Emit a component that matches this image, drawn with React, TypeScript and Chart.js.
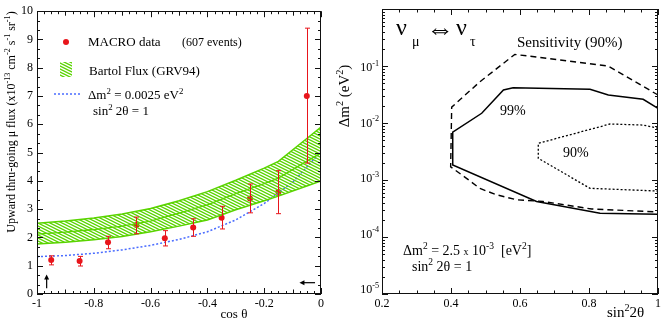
import React, { useEffect, useRef } from 'react';
import { Chart, registerables } from 'chart.js';

Chart.register(...registerables);

const FONT = '"Liberation Serif", "Times New Roman", serif';
const RED = '#e8151b';
const GREEN = '#5ad400';
const BLUE = '#4a6cff';

// ---------- Left panel data ----------
const cosBins = [-0.95, -0.85, -0.75, -0.65, -0.55, -0.45, -0.35, -0.25, -0.15, -0.05];
const macroFlux = [1.2, 1.17, 1.83, 2.44, 1.97, 2.35, 2.7, 3.38, 3.61, 7.0];
const macroErrLow = [1.03, 0.99, 1.6, 2.13, 1.7, 2.04, 2.3, 2.87, 2.84, 4.63];
const macroErrHigh = [1.35, 1.33, 2.04, 2.72, 2.24, 2.66, 3.1, 3.89, 4.36, 9.4];

const bandCos = [-1, -0.9, -0.8, -0.7, -0.6, -0.5, -0.4, -0.3, -0.2, -0.15, -0.05, 0];
const bartolUpper = [2.5, 2.58, 2.69, 2.83, 3.02, 3.3, 3.62, 4.02, 4.45, 4.69, 5.5, 5.9];
const bartolCenter = [2.12, 2.19, 2.28, 2.4, 2.58, 2.86, 3.15, 3.55, 3.9, 4.1, 4.7, 4.98];
const bartolLower = [1.77, 1.83, 1.92, 2.03, 2.2, 2.4, 2.62, 2.98, 3.3, 3.46, 3.82, 4.0];

const oscCos = [-1, -0.9, -0.8, -0.7, -0.6, -0.5, -0.4, -0.3, -0.2, -0.1, 0];
const oscFlux = [1.32, 1.36, 1.44, 1.56, 1.72, 1.93, 2.2, 2.62, 3.2, 3.95, 5.03];

const leftXTicks = [-1, -0.8, -0.6, -0.4, -0.2, 0];
const leftYTicks = [0, 1, 2, 3, 4, 5, 6, 7, 8, 9, 10];

// ---------- Right panel data ----------
const sensX = [1.0, 0.855, 0.585, 0.484, 0.402, 0.399, 0.445, 0.484, 0.532, 0.59, 0.667, 0.808, 1.0];
const sensY = [0.031, 0.1, 0.16, 0.053, 0.019, 1.7e-3, 1.07e-3, 7.1e-4, 5.5e-4, 4.5e-4, 4.2e-4, 3.1e-4, 2.75e-4];
const c99X = [1.0, 0.957, 0.856, 0.803, 0.58, 0.552, 0.489, 0.405, 0.405, 0.648, 0.832, 1.0];
const c99Y = [0.018, 0.026, 0.031, 0.039, 0.0417, 0.038, 0.0148, 6.9e-3, 1.83e-3, 4.2e-4, 2.6e-4, 2.5e-4];
const c90X = [1.0, 0.957, 0.861, 0.653, 0.653, 0.803, 1.0];
const c90Y = [8.1e-3, 9.2e-3, 9.6e-3, 4.4e-3, 2.4e-3, 7.15e-4, 6.4e-4];

const rightXTicks = [0.2, 0.4, 0.6, 0.8, 1];
const rightYDecades = [-1, -2, -3, -4, -5];

// ---------- helpers ----------
type Seg = { t: string; k?: 'sup' | 'sub'; s?: number };

function segSize(sg: Seg, size: number) {
  return sg.s ?? (sg.k ? size * 0.68 : size);
}
function measureRich(ctx: CanvasRenderingContext2D, segs: Seg[], size: number) {
  let w = 0;
  for (const sg of segs) {
    ctx.font = `${segSize(sg, size)}px ${FONT}`;
    w += ctx.measureText(sg.t).width;
  }
  return w;
}
function drawRich(
  ctx: CanvasRenderingContext2D,
  x: number,
  y: number,
  segs: Seg[],
  size: number,
  align: 'left' | 'center' | 'right' = 'left'
) {
  const w = measureRich(ctx, segs, size);
  let cx = align === 'left' ? x : align === 'center' ? x - w / 2 : x - w;
  ctx.textAlign = 'left';
  ctx.textBaseline = 'alphabetic';
  for (const sg of segs) {
    const fs = segSize(sg, size);
    ctx.font = `${fs}px ${FONT}`;
    const dy = sg.k === 'sup' ? -size * 0.42 : sg.k === 'sub' ? size * 0.3 : 0;
    ctx.fillText(sg.t, cx, y + dy);
    cx += ctx.measureText(sg.t).width;
  }
}

function makeHatch(): CanvasPattern | string {
  const w = 6;
  const h = 3;
  const c = document.createElement('canvas');
  c.width = w;
  c.height = h;
  const g = c.getContext('2d');
  if (!g) return GREEN;
  g.strokeStyle = GREEN;
  g.lineWidth = 1.3;
  for (const k of [-1, 0, 1]) {
    g.beginPath();
    g.moveTo(-1, k * h - h / w);
    g.lineTo(w + 1, k * h + h + h / w);
    g.stroke();
  }
  const p = g.createPattern(c, 'repeat');
  return p || GREEN;
}

function frame(ctx: CanvasRenderingContext2D, a: any) {
  ctx.strokeStyle = '#111';
  ctx.lineWidth = 1;
  ctx.strokeRect(Math.round(a.left) + 0.5, Math.round(a.top) + 0.5, Math.round(a.right - a.left) - 1, Math.round(a.bottom - a.top) - 1);
}

// ---------- plugins ----------
const leftDeco = {
  id: 'leftDeco',
  afterDatasetsDraw(chart: any) {
    const { ctx, chartArea: a, scales } = chart;
    const xs = scales.x;
    const ys = scales.y;
    ctx.save();
    // error bars
    ctx.strokeStyle = RED;
    ctx.lineWidth = 1;
    cosBins.forEach((c, i) => {
      const px = Math.round(xs.getPixelForValue(c)) + 0.5;
      const pl = ys.getPixelForValue(macroErrLow[i]);
      const ph = ys.getPixelForValue(macroErrHigh[i]);
      ctx.beginPath();
      ctx.moveTo(px, pl);
      ctx.lineTo(px, ph);
      ctx.moveTo(px - 2.5, pl);
      ctx.lineTo(px + 2.5, pl);
      ctx.moveTo(px - 2.5, ph);
      ctx.lineTo(px + 2.5, ph);
      ctx.stroke();
    });
    frame(ctx, a);
    // ticks
    ctx.strokeStyle = '#111';
    ctx.beginPath();
    for (let k = 0; k <= 30; k++) {
      const v = k / 3;
      const len = k % 3 === 0 ? 6 : 3;
      const py = Math.round(ys.getPixelForValue(v)) + 0.5;
      ctx.moveTo(a.left, py);
      ctx.lineTo(a.left + len, py);
      ctx.moveTo(a.right, py);
      ctx.lineTo(a.right - len, py);
    }
    for (let k = 0; k <= 40; k++) {
      const v = -1 + k * 0.025;
      const len = k % 8 === 0 ? 6 : k % 4 === 0 ? 4.5 : 3;
      const px = Math.round(xs.getPixelForValue(v)) + 0.5;
      ctx.moveTo(px, a.bottom);
      ctx.lineTo(px, a.bottom - len);
      ctx.moveTo(px, a.top);
      ctx.lineTo(px, a.top + len);
    }
    ctx.stroke();
    // arrows
    ctx.strokeStyle = '#000';
    ctx.fillStyle = '#000';
    ctx.lineWidth = 1.2;
    const ax = xs.getPixelForValue(-0.966);
    const ay0 = ys.getPixelForValue(0.2);
    const ay1 = ys.getPixelForValue(0.69);
    ctx.beginPath();
    ctx.moveTo(ax, ay0);
    ctx.lineTo(ax, ay1 + 4);
    ctx.stroke();
    ctx.beginPath();
    ctx.moveTo(ax, ay1);
    ctx.lineTo(ax - 2.5, ay1 + 5);
    ctx.lineTo(ax + 2.5, ay1 + 5);
    ctx.closePath();
    ctx.fill();
    const by = ys.getPixelForValue(0.4);
    const bx0 = xs.getPixelForValue(-0.021);
    const bx1 = xs.getPixelForValue(-0.076);
    ctx.beginPath();
    ctx.moveTo(bx0, by);
    ctx.lineTo(bx1 + 4, by);
    ctx.stroke();
    ctx.beginPath();
    ctx.moveTo(bx1, by);
    ctx.lineTo(bx1 + 5, by - 2.5);
    ctx.lineTo(bx1 + 5, by + 2.5);
    ctx.closePath();
    ctx.fill();

    // legend
    ctx.fillStyle = RED;
    ctx.beginPath();
    ctx.arc(66, 42, 3, 0, Math.PI * 2);
    ctx.fill();
    ctx.fillStyle = '#000';
    drawRich(ctx, 88, 46, [{ t: 'MACRO data' }], 13);
    drawRich(ctx, 182, 46, [{ t: '(607 events)' }], 12);
    ctx.fillStyle = chart.$hatch || GREEN;
    ctx.fillRect(60, 62, 12, 15);
    ctx.fillStyle = '#000';
    drawRich(ctx, 89, 75, [{ t: 'Bartol Flux (GRV94)' }], 13);
    ctx.strokeStyle = BLUE;
    ctx.lineWidth = 1.5;
    ctx.setLineDash([2, 2]);
    ctx.beginPath();
    ctx.moveTo(54, 94);
    ctx.lineTo(81, 94);
    ctx.stroke();
    ctx.setLineDash([]);
    ctx.fillStyle = '#000';
    drawRich(ctx, 88, 99, [{ t: '\u0394m' }, { t: '2', k: 'sup' }, { t: ' = 0.0025 eV' }, { t: '2', k: 'sup' }], 13);
    drawRich(ctx, 93, 115, [{ t: 'sin' }, { t: '2', k: 'sup' }, { t: ' 2\u03b8 = 1' }], 13);

    // axis titles
    drawRich(ctx, 234, 318, [{ t: 'cos \u03b8' }], 13, 'center');
    ctx.save();
    ctx.translate(15, 122);
    ctx.rotate(-Math.PI / 2);
    drawRich(
      ctx,
      0,
      0,
      [
        { t: 'Upward thru-going \u03bc flux (x10' },
        { t: '-13', k: 'sup' },
        { t: ' cm' },
        { t: '-2', k: 'sup' },
        { t: ' s' },
        { t: '-1', k: 'sup' },
        { t: ' sr' },
        { t: '-1', k: 'sup' },
        { t: ')' },
      ],
      12,
      'center'
    );
    ctx.restore();
    ctx.restore();
  },
};

const rightDeco = {
  id: 'rightDeco',
  afterDatasetsDraw(chart: any) {
    const { ctx, chartArea: a, scales } = chart;
    const xs = scales.x;
    const ys = scales.y;
    ctx.save();
    frame(ctx, a);
    ctx.strokeStyle = '#111';
    ctx.lineWidth = 1;
    ctx.beginPath();
    for (let k = 0; k <= 16; k++) {
      const v = 0.2 + k * 0.05;
      const len = k % 4 === 0 ? 6 : 3.5;
      const px = Math.round(xs.getPixelForValue(v)) + 0.5;
      ctx.moveTo(px, a.bottom);
      ctx.lineTo(px, a.bottom - len);
      ctx.moveTo(px, a.top);
      ctx.lineTo(px, a.top + len);
    }
    for (let d = -5; d <= -1; d++) {
      for (let m = 1; m <= 9; m++) {
        const v = m * Math.pow(10, d);
        const len = m === 1 ? 6 : 3;
        const py = Math.round(ys.getPixelForValue(v)) + 0.5;
        ctx.moveTo(a.left, py);
        ctx.lineTo(a.left + len, py);
        ctx.moveTo(a.right, py);
        ctx.lineTo(a.right - len, py);
      }
    }
    ctx.stroke();

    ctx.fillStyle = '#000';
    // y tick labels
    rightYDecades.forEach((d, i) => {
      const py = ys.getPixelForValue(Math.pow(10, d));
      drawRich(ctx, 49, py + 5 - 1.5 * i, [{ t: '10' }, { t: String(d), k: 'sup' }], 12, 'right');
    });
    // x title
    drawRich(ctx, 277, 317, [{ t: 'sin' }, { t: '2', k: 'sup' }, { t: '2\u03b8' }], 15);
    // y title
    ctx.save();
    ctx.translate(19, 96);
    ctx.rotate(-Math.PI / 2);
    drawRich(ctx, 0, 0, [{ t: '\u0394m' }, { t: '2', k: 'sup' }, { t: ' (eV' }, { t: '2', k: 'sup' }, { t: ')' }], 15, 'center');
    ctx.restore();
    // title
    drawRich(ctx, 66, 35, [{ t: '\u03bd', s: 24 }], 24);
    drawRich(ctx, 82, 46, [{ t: '\u03bc', s: 14 }], 14);
    drawRich(ctx, 96, 38, [{ t: '\u21d4', s: 28 }], 28);
    drawRich(ctx, 126, 35, [{ t: '\u03bd', s: 24 }], 24);
    drawRich(ctx, 140, 46, [{ t: '\u03c4', s: 14 }], 14);
    // labels
    drawRich(ctx, 187, 47, [{ t: 'Sensitivity (90%)' }], 15);
    drawRich(ctx, 170, 115, [{ t: '99%' }], 14);
    drawRich(ctx, 233, 157, [{ t: '90%' }], 14);
    drawRich(
      ctx,
      73,
      255,
      [
        { t: '\u0394m' },
        { t: '2', k: 'sup' },
        { t: ' = 2.5 ' },
        { t: 'x', s: 10 },
        { t: ' 10' },
        { t: '-3', k: 'sup' },
        { t: '  [eV' },
        { t: '2', k: 'sup' },
        { t: ']' },
      ],
      14
    );
    drawRich(ctx, 82, 271, [{ t: 'sin' }, { t: '2', k: 'sup' }, { t: ' 2\u03b8 = 1' }], 14);
    ctx.restore();
  },
};

function fmtTick(v: number) {
  return String(parseFloat(Number(v).toFixed(2)));
}

export default function App() {
  const leftRef = useRef<HTMLCanvasElement>(null);
  const rightRef = useRef<HTMLCanvasElement>(null);

  useEffect(() => {
    const hatch = makeHatch();
    const pts = (xsArr: number[], ysArr: number[]) => xsArr.map((x, i) => ({ x, y: ysArr[i] }));

    const left = new Chart(leftRef.current as HTMLCanvasElement, {
      type: 'scatter',
      data: {
        datasets: [
          {
            data: pts(bandCos, bartolUpper),
            showLine: true,
            borderColor: GREEN,
            borderWidth: 1.5,
            pointRadius: 0,
            backgroundColor: hatch as any,
            fill: 1,
          } as any,
          {
            data: pts(bandCos, bartolLower),
            showLine: true,
            borderColor: GREEN,
            borderWidth: 1.5,
            pointRadius: 0,
            fill: false,
          },
          {
            data: pts(bandCos, bartolCenter),
            showLine: true,
            borderColor: GREEN,
            borderWidth: 1.3,
            pointRadius: 0,
            fill: false,
          },
          {
            data: pts(oscCos, oscFlux),
            showLine: true,
            borderColor: BLUE,
            borderWidth: 1.5,
            borderDash: [2, 2],
            pointRadius: 0,
            fill: false,
          },
          {
            data: pts(cosBins, macroFlux),
            showLine: false,
            pointRadius: 3,
            pointBackgroundColor: RED,
            pointBorderWidth: 0,
          },
        ],
      },
      options: {
        animation: false,
        responsive: false,
        maintainAspectRatio: false,
        layout: { padding: { top: 8, right: 9, left: 0, bottom: 0 } },
        plugins: { legend: { display: false }, tooltip: { enabled: false } },
        scales: {
          x: {
            type: 'linear',
            min: -1,
            max: 0,
            grid: { display: false, drawTicks: false },
            border: { display: false },
            afterBuildTicks: (s: any) => {
              s.ticks = leftXTicks.map((v) => ({ value: v }));
            },
            ticks: {
              color: '#000',
              padding: 3,
              maxRotation: 0,
              autoSkip: false,
              font: { family: FONT, size: 12 },
              callback: (v: any) => fmtTick(v),
            },
            afterFit: (s: any) => {
              s.height = 28;
            },
          },
          y: {
            type: 'linear',
            min: 0,
            max: 10,
            grid: { display: false, drawTicks: false },
            border: { display: false },
            afterBuildTicks: (s: any) => {
              s.ticks = leftYTicks.map((v) => ({ value: v }));
            },
            ticks: {
              color: '#000',
              padding: 4,
              autoSkip: false,
              font: { family: FONT, size: 12 },
              callback: (v: any) => fmtTick(v),
            },
            afterFit: (s: any) => {
              s.width = 37;
            },
          },
        },
      },
      plugins: [leftDeco],
    } as any);
    (left as any).$hatch = hatch;
    left.draw();

    const right = new Chart(rightRef.current as HTMLCanvasElement, {
      type: 'scatter',
      data: {
        datasets: [
          {
            data: pts(sensX, sensY),
            showLine: true,
            borderColor: '#000',
            borderWidth: 1.4,
            borderDash: [6, 4],
            pointRadius: 0,
            fill: false,
          },
          {
            data: pts(c99X, c99Y),
            showLine: true,
            borderColor: '#000',
            borderWidth: 1.5,
            pointRadius: 0,
            fill: false,
          },
          {
            data: pts(c90X, c90Y),
            showLine: true,
            borderColor: '#000',
            borderWidth: 1.3,
            borderDash: [2, 2],
            pointRadius: 0,
            fill: false,
          },
        ],
      },
      options: {
        animation: false,
        responsive: false,
        maintainAspectRatio: false,
        layout: { padding: { top: 9, right: 6, left: 0, bottom: 0 } },
        plugins: { legend: { display: false }, tooltip: { enabled: false } },
        scales: {
          x: {
            type: 'linear',
            min: 0.2,
            max: 1,
            grid: { display: false, drawTicks: false },
            border: { display: false },
            afterBuildTicks: (s: any) => {
              s.ticks = rightXTicks.map((v) => ({ value: v }));
            },
            ticks: {
              color: '#000',
              padding: 3,
              maxRotation: 0,
              autoSkip: false,
              font: { family: FONT, size: 12 },
              callback: (v: any) => (Number(v) === 1 ? '1' : Number(v).toFixed(1)),
            },
            afterFit: (s: any) => {
              s.height = 28;
            },
          },
          y: {
            type: 'logarithmic',
            min: 1e-5,
            max: 1,
            grid: { display: false, drawTicks: false },
            border: { display: false },
            ticks: { display: false },
            afterFit: (s: any) => {
              s.width = 52;
            },
          },
        },
      },
      plugins: [rightDeco],
    } as any);

    return () => {
      left.destroy();
      right.destroy();
    };
  }, []);

  return (
    <div style={{ position: 'fixed', left: 0, top: 0, width: 664, height: 322, background: '#fff', overflow: 'hidden' }}>
      <canvas ref={leftRef} width={330} height={322} style={{ position: 'absolute', left: 0, top: 0, width: 330, height: 322 }} />
      <canvas ref={rightRef} width={334} height={322} style={{ position: 'absolute', left: 330, top: 0, width: 334, height: 322 }} />
    </div>
  );
}
